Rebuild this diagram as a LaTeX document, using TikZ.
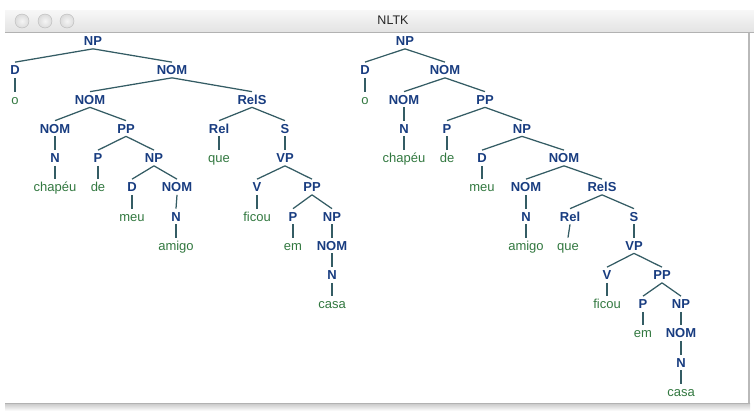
\documentclass[tikz,border=0pt]{standalone}
\usepackage{fontspec}
\setmainfont{Liberation Sans}
\definecolor{ntblue}{RGB}{24,60,128}
\definecolor{tmgreen}{RGB}{50,120,64}
\definecolor{linecol}{RGB}{52,92,100}
\tikzset{
  nt/.style={font=\bfseries\fontsize{13}{13}\selectfont, text=ntblue, inner sep=3pt, text height=9.3pt, text depth=0pt},
  tm/.style={font=\fontsize{13}{13}\selectfont, text=tmgreen, inner sep=3pt, text height=9.3pt, text depth=0pt},
  br/.style={draw=linecol, line width=1.25pt},
}
\begin{document}
\begin{tikzpicture}[x=1pt,y=-1pt]
\useasboundingbox (0,0) rectangle (754,415);
% window frame
\shade[top color=gray!6, bottom color=gray!22] (5,10) rectangle (754,32);
\draw[gray!60, line width=1pt] (5,32) -- (754,32);
\shade[top color=gray!45, bottom color=white] (5,403) rectangle (750,411);
\draw[gray!60, line width=1pt] (5,403) -- (750,403);
\draw[gray!55, line width=1.5pt] (749,32.5) -- (749,403);
\foreach \cx/\nm in {22/c1,45/c2,67/c3}{
  \shade[draw=gray!55, inner color=gray!8, outer color=gray!28] (\cx,21) circle (7);
}
\node[font=\fontsize{12.5}{12.5}\selectfont, text=black!85] (title) at (393,20) {NLTK};
% rows
\def\ra{41}\def\rb{70}\def\rc{99.5}\def\rd{128.5}\def\re{158}\def\rf{187}\def\rg{216.5}
\def\rh{245.5}\def\ri{275}\def\rj{304}\def\rk{333}\def\rl{362.5}\def\rm{392}
% ---------- left tree ----------
\node[nt] (aNP) at (93,\ra) {NP};
\node[nt] (aD) at (15,\rb) {D};
\node[nt] (aNOM) at (172,\rb) {NOM};
\node[tm] (ao) at (15,\rc) {o};
\node[nt] (aNOMb) at (90,\rc) {NOM};
\node[nt] (aRelS) at (252,\rc) {RelS};
\node[nt] (aNOMc) at (55,\rd) {NOM};
\node[nt] (aPP) at (126,\rd) {PP};
\node[nt] (aRel) at (219,\rd) {Rel};
\node[nt] (aS) at (285,\rd) {S};
\node[nt] (aN) at (55,\re) {N};
\node[nt] (aP) at (98,\re) {P};
\node[nt] (aNPb) at (154,\re) {NP};
\node[tm] (aque) at (219,\re) {que};
\node[nt] (aVP) at (285,\re) {VP};
\node[tm] (achapeu) at (55,\rf) {chapéu};
\node[tm] (ade) at (98,\rf) {de};
\node[nt] (aDb) at (132,\rf) {D};
\node[nt] (aNOMd) at (177,\rf) {NOM};
\node[nt] (aV) at (257,\rf) {V};
\node[nt] (aPPb) at (312,\rf) {PP};
\node[tm] (ameu) at (132,\rg) {meu};
\node[nt] (aNb) at (176,\rg) {N};
\node[tm] (aficou) at (257,\rg) {ficou};
\node[nt] (aPb) at (293,\rg) {P};
\node[nt] (aNPc) at (332,\rg) {NP};
\node[tm] (aamigo) at (176,\rh) {amigo};
\node[tm] (aem) at (293,\rh) {em};
\node[nt] (aNOMe) at (332,\rh) {NOM};
\node[nt] (aNc) at (332,\ri) {N};
\node[tm] (acasa) at (332,\rj) {casa};
\foreach \p/\c in {aNP/aD,aNP/aNOM,aD/ao,aNOM/aNOMb,aNOM/aRelS,aNOMb/aNOMc,aNOMb/aPP,
  aNOMc/aN,aN/achapeu,aPP/aP,aPP/aNPb,aP/ade,aNPb/aDb,aNPb/aNOMd,aDb/ameu,aNOMd/aNb,aNb/aamigo,
  aRelS/aRel,aRelS/aS,aRel/aque,aS/aVP,aVP/aV,aVP/aPPb,aV/aficou,aPPb/aPb,aPPb/aNPc,aPb/aem,
  aNPc/aNOMe,aNOMe/aNc,aNc/acasa}
  \draw[br] (\p.south) -- (\c.north);
% ---------- right tree ----------
\node[nt] (bNP) at (405,\ra) {NP};
\node[nt] (bD) at (365,\rb) {D};
\node[nt] (bNOM) at (445,\rb) {NOM};
\node[tm] (bo) at (365,\rc) {o};
\node[nt] (bNOMb) at (404,\rc) {NOM};
\node[nt] (bPP) at (485,\rc) {PP};
\node[nt] (bN) at (404,\rd) {N};
\node[nt] (bP) at (447,\rd) {P};
\node[nt] (bNPb) at (522,\rd) {NP};
\node[tm] (bchapeu) at (404,\re) {chapéu};
\node[tm] (bde) at (447,\re) {de};
\node[nt] (bDb) at (482,\re) {D};
\node[nt] (bNOMc) at (564,\re) {NOM};
\node[tm] (bmeu) at (482,\rf) {meu};
\node[nt] (bNOMd) at (526,\rf) {NOM};
\node[nt] (bRelS) at (602,\rf) {RelS};
\node[nt] (bNb) at (526,\rg) {N};
\node[nt] (bRel) at (570,\rg) {Rel};
\node[nt] (bS) at (634,\rg) {S};
\node[tm] (bamigo) at (526,\rh) {amigo};
\node[tm] (bque) at (568,\rh) {que};
\node[nt] (bVP) at (634,\rh) {VP};
\node[nt] (bV) at (607,\ri) {V};
\node[nt] (bPPb) at (662,\ri) {PP};
\node[tm] (bficou) at (607,\rj) {ficou};
\node[nt] (bPb) at (643,\rj) {P};
\node[nt] (bNPc) at (681,\rj) {NP};
\node[tm] (bem) at (643,\rk) {em};
\node[nt] (bNOMe) at (681,\rk) {NOM};
\node[nt] (bNc) at (681,\rl) {N};
\node[tm] (bcasa) at (681,\rm) {casa};
\foreach \p/\c in {bNP/bD,bNP/bNOM,bD/bo,bNOM/bNOMb,bNOM/bPP,bNOMb/bN,bN/bchapeu,
  bPP/bP,bPP/bNPb,bP/bde,bNPb/bDb,bNPb/bNOMc,bDb/bmeu,bNOMc/bNOMd,bNOMc/bRelS,bNOMd/bNb,bNb/bamigo,
  bRelS/bRel,bRelS/bS,bRel/bque,bS/bVP,bVP/bV,bVP/bPPb,bV/bficou,bPPb/bPb,bPPb/bNPc,bPb/bem,
  bNPc/bNOMe,bNOMe/bNc,bNc/bcasa}
  \draw[br] (\p.south) -- (\c.north);
\end{tikzpicture}
\end{document}
